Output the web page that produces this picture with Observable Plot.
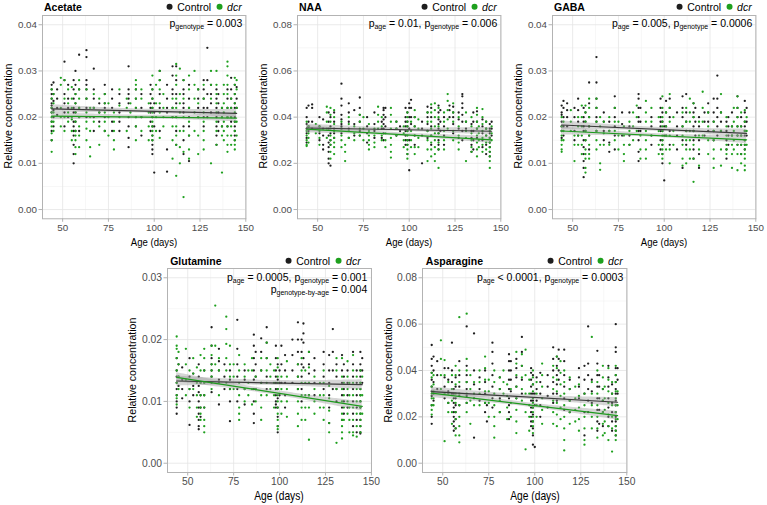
<!DOCTYPE html>
<html><head><meta charset="utf-8">
<script src="https://cdn.jsdelivr.net/npm/d3@7"></script>
<script src="https://cdn.jsdelivr.net/npm/@observablehq/plot@0.6"></script>
<style>
body{margin:0;background:#fff;font-family:"Liberation Sans",Arial,sans-serif;}
#fig{position:relative;width:767px;height:505px;overflow:hidden;background:#fff;}
#fig svg{position:absolute;}
.t{position:absolute;white-space:nowrap;line-height:1;color:#000;}
.t sub{font-size:7px;vertical-align:-2.5px;line-height:0;}
.leg{display:flex;align-items:center;}
.dot{display:inline-block;width:6px;height:6px;border-radius:50%;margin-right:5px;}
</style></head><body><div id="fig"></div>
<script>
// ---- data (concentrations in thousandths: 21 = 0.021) ----
const panelNames = ["Acetate", "NAA", "GABA", "Glutamine", "Asparagine"];
const groupNames = ["Control", "dcr"];
const xTicks = [50, 75, 100, 125, 150];
const yTicksSmall = [0, 0.01, 0.02, 0.03, 0.04];
const yTicksLarge = [0, 0.02, 0.04, 0.06, 0.08];
const yTicksGln = [0, 0.01, 0.02, 0.03];
const pLabels = [
  ["p<sub>genotype</sub> = 0.003"],
  ["p<sub>age</sub> = 0.01, p<sub>genotype</sub> = 0.006"],
  ["p<sub>age</sub> = 0.005, p<sub>genotype</sub> = 0.0006"],
  ["p<sub>age</sub> = 0.0005, p<sub>genotype</sub> = 0.001", "p<sub>genotype-by-age</sub> = 0.004"],
  ["p<sub>age</sub> &lt; 0.0001, p<sub>genotype</sub> = 0.0003"]
];

const acetateControl = [
 [44,[27,26,25,24,23,22.5,22,21,19,17,15]],[45,[27.5,25,23.5,21.5,20,18]],[47,[26,24,22,20.5]],
 [51,[32,28,25,23,21,18]],[53,[27,24,22,20]],[56,[28,26,24,22,21,19,18,17,16,14,12,10]],
 [57,[30,27,25,23,21,19,17]],[59,[33.5,26,22,20,17]],[63,[34.5,33,28,27,26,24,22,20]],
 [67,[30.5,26,24,22,20,17]],[70,[23,21,19]],[73,[27,25,23,22,20,17]],[77,[26,24,22,19,17]],
 [81,[25,23,21,19,17]],[86,[31,26,25,24,23,20,18,15.5,13.5]],[90,[26,24,22,20,18]],[93,[25,22,20,16]],
 [98,[27,25,23,22,21,19,17]],[99,[26,24,22,20,18,16,15,14,13,12]],[100,[8,23,21,18]],
 [103,[30,28,25,22,17]],[107,[27,24,22,21,13,8.2]],[110,[31,29,26,25,22,20]],
 [112,[31,28,25,23,20,17,14]],[116,[28,26,25,23,22,21,18,15,12]],[119,[27,24,22,20,18,16,10.5]],
 [124,[26,24,22,20]],[127,[28,26,24,22,20,18]],[129,[35,28,25,22,20]],[131,[27,25,23,21]],
 [134,[26,24,22,20,18,16,14]],[135,[25,23,21,19,17]],[137,[22,20,18]],[140,[26,24,22,20,18]],
 [142,[28.5,26,24,22,20,19]],[144,[27,25,23,22,20,19,18,17,16,15]],[145,[26.5,24,22]]
];
const acetateDcr = [
 [44,[26,24,22,21,20,19,18,16.5,15,12.5]],[45,[25,23,21,19,17]],[49,[28.5,27,22,20,18]],
 [51,[28,24,20,17]],[53,[26,23,21,19]],[55,[26.5,24,22,20,19.5,17,15]],
 [57,[25,23,21,19,17,16,15,13.5,12]],[59,[28,26,24,22,20,18,16,13.5]],[63,[26,24,21,19,17.5,15]],
 [65,[22,20,17,13.5,11.5]],[67,[25,22,19]],[70,[24,21,18,14]],[73,[25,23,21,19,17]],[75,[23,20,16]],
 [78,[21,19,17,15,13]],[81,[26,22.5,20]],[85,[24,22,17]],[87,[23,21]],[90,[28,27,26,24,22,20,18,15]],
 [93,[26,24,20,17]],[97,[23,21,18,15]],[99,[29,26,24,22,21,20,19,18,17,16,15]],[101,[27,23,20,17]],
 [103,[30,28,26,23,21,15.5]],[105,[25,22,20,18]],[110,[24,22,20,18,15,11]],
 [112,[31.5,29,27,24,22,20,18,16,14,7.3]],[114,[30.5,25,23,21,17,13.5,10]],[116,[28,24,20,17,12.5,2.7]],
 [119,[29,26,22,19,16,13,11]],[122,[30,27,24,21,17]],[124,[26,23,20,16,12]],[127,[27,24,21,19,17,15,13]],
 [131,[30,27,24,10]],[134,[30,27,25,23,21,19,17,14]],[137,[22,20,18,16,8]],[138,[27,25,23,21,19,17,15]],
 [140,[32,31,29,27,25,22,20,18,16,14,12.5]],[142,[24,22,20,18,16,14]],
 [144,[28.5,27,25,23,21,19,17,15,14,13]],[145,[28,26,22,19,16]]
];
const naaControl = [
 [44,[44,40,37,35,33,31,29]],[45,[45,38,36,34]],[47,[45.5,44,38,35]],[51,[40,36,33,30]],
 [53,[39,35,32,28,26]],[56,[42,38,35,32,29,27,25,22,20]],[57,[40,36,33,30,28,19]],[59,[42,38,35,33,31]],
 [63,[54.5,48,45,41,39,37,36,35,33]],[67,[46,42,38,35,31]],[70,[43,37,32]],[73,[48.5,44,41,38,34,32]],
 [77,[40,36,33,29]],[81,[42,37,34,31]],[85,[38,35,31]],[86,[44,43,41,39,37,35,33,30]],[87,[44,40,36]],
 [93,[38,35,32]],[95,[34,36]],[98,[44,40,38,36,34,32,30,28]],[99,[42,38,36,34,30,28,24]],
 [100,[46,44,40,35,30,17]],[101,[47.5,44,40,37]],[103,[40,36,32,28]],[107,[38,35,32,20]],
 [110,[44.5,42,40,37,34,31]],[112,[44,40,36,32,28]],[116,[45,42,39,37,35,33,30,28,26]],[117,[43,38,34]],
 [119,[40,36,32,28]],[122,[45,43,40]],[124,[44.5,42,40,37,33]],[127,[42,39,35,31]],
 [129,[50,49,46,44,41,38,34,30]],[131,[38,35]],[134,[37,34,31,28,25]],[135,[42,38,34,30,26]],
 [137,[42.5,38,35,31]],[140,[39,36,33,30,27]],[142,[38,35,32,28,24]],[144,[37,35,33,31,29,27,25,23]],
 [145,[38,35,32]]
];
const naaDcr = [
 [44,[38,34,32,30,28,27.5]],[45,[36,33,31,29]],[49,[37,33]],[51,[36,34,31,28]],[55,[44.5,42,38,35,31]],
 [57,[44,41,38,35,32,30,28,25,22]],[59,[43,40,37,34,31,29,27,24]],[63,[38,35,32,30,27]],[65,[28,25,21]],
 [67,[40,37,34,31]],[70,[36,33,30]],[73,[41,38,35,32]],[75,[40,35,30]],[78,[37,34,32,30,28,26]],
 [81,[35,32,29,27]],[83,[44.5,41,38,35]],[85,[40,36,32,30]],[87,[33,30,27]],[90,[44,41,38,35,31,28,25,22.5]],
 [93,[38,35,32]],[97,[36,33,30,27]],[99,[42,40,38,36,34,32,30,28,26,24,22]],[101,[38,34,30,27]],
 [103,[43,40,36,32,27,24]],[105,[39,35,31,27]],[110,[42,38,34,30,26,21]],[112,[45.5,42,38,35,32,29,26,23]],
 [114,[46,43,40,36,33,30,27,24,21]],[116,[44,40,36,33,29,26,18]],[119,[42,38,34,30,26]],
 [121,[50,47,43,39,35]],[124,[46,42,38,34,30]],[127,[40,36,32,29,26]],[131,[42,38,34,31,21]],
 [134,[40,36,33,30,27,25]],[137,[44,41,38,35,32,29,26,23]],[138,[36,33,30,27]],
 [140,[43.5,40,37,34,31,28,25]],[142,[38,35,32,29,26]],[144,[34,31,29,27,25,23,21,18]],[145,[36,33,30]]
];
const gabaControl = [
 [44,[22.5,21,20.5,19,18,17,15.5]],[45,[23.5,22,20,18,16]],[47,[23,21.5,20,18]],[51,[22,20,17,15]],
 [53,[24,21.5,19,16]],[56,[22,20,19,18,17,15,13.5,12,10.5,9,7]],[57,[21,19,17,15]],[59,[27.5,23,20,18,16,13]],
 [63,[33,27.5,24,22,20,19,17]],[67,[21,19,17,15]],[70,[19,17,14.5,12.5]],[73,[24.5,22,20,18,16,13]],
 [77,[21,18.5,16]],[81,[21,18,16,14]],[86,[25,24,22,20,19,17,15,12.5,10.5]],[87,[22,19,17]],
 [93,[20,18,16,14]],[98,[24,22,20,19,18,17,15,13]],[99,[21,19,17,15,14,12,10]],[100,[6.3,18,16]],
 [101,[23.5,21,18,16]],[103,[24,22,20,17,14]],[107,[21,18,16,13]],[110,[24.5,22,20,18,15,9]],
 [112,[25,21,19,17,14]],[116,[23,21,20,18,17,15,13,11]],[117,[22,19,16]],[119,[20,18,15,12,9]],
 [122,[21,19,16]],[124,[23,21,19,17]],[127,[24,21,19,17,15]],[129,[29,24,22,20,18,16]],[131,[21,19,17]],
 [134,[19,17,15,13,11]],[135,[20,18,16,14]],[137,[21,18,16]],[140,[24.5,22,20,18,16,14]],
 [142,[20,18,16,14,12]],[144,[23.5,21,19,18,17,16,15,14,13]],[145,[22,19,16]]
];
const gabaDcr = [
 [44,[20,18,17,16,15,14,13,12.5]],[45,[19,17,15]],[49,[21.5,19,17]],[51,[16,14,10.5]],[53,[20,18,16,14]],
 [55,[22.5,20,18,16,14,12]],[57,[22.5,21,19,17,15,13,12,11,9,8]],[59,[24,22,20,18,16,14,12,11]],
 [63,[24,22,19,17,15,13]],[65,[20,18,14,10,8.6]],[67,[19,16.5,14]],[70,[20,17,14]],[73,[22,19,17,15]],
 [75,[19,16,13]],[78,[18,16,14,12,10.5]],[81,[19,17,14]],[83,[21,18,15]],[85,[22.5,20,17]],[87,[16,13,11]],
 [90,[23.5,21,19,17,15,13,11]],[93,[22,19,16]],[97,[20,17,14,12]],
 [99,[24.5,22,20,19,18,17,16,15,14,13,12,11]],[101,[21,18,16,13]],[103,[25,22,19,16,13,10]],
 [105,[20,17,14]],[110,[21,18,16,14,11,9.5]],[112,[22,19,17,15,13,10]],[114,[24,21,19,17,15,13,11]],
 [116,[23,20,17,14,11,6]],[119,[19,16,13,9.5]],[121,[25.5,22,19,16]],[124,[21,18,15,12]],
 [127,[19,17,15,13,11,9]],[131,[25,21,17,13,9.5]],[134,[20,18,16,14,13,12]],[137,[18,16,14,12,9]],
 [138,[22,19,17,15,13]],[140,[24.5,22,20,18,16,14,12,8.5]],[142,[21,18,16,14,12,10]],
 [144,[21.5,19,17,15,14,13,12,11,9.5,8.5]],[145,[20,17,14]]
];
const glutamineControl = [
 [44,[17,15,14,13,12,11,10,9,8]],[45,[16,14,12.5]],[47,[15.5,13.5,12,10.5]],[51,[17,14,12,10,6.2]],
 [53,[14.5,12.5,11]],[56,[16,14,12.5,11.5,10,9,8,7,6,5.5]],[57,[13,11,9,7.5]],[59,[15,13,11,9]],
 [63,[22,19,17,16,15,14,13,11.5]],[67,[18.5,16.5,15,13.5,9.5]],[70,[16,14,12]],[73,[15,13.5,12,10,6.8]],
 [77,[23.2,18.5,16,14,12,10]],[81,[15,13.5,12,9.5]],[86,[20.8,19,17,15,13.5,12,10,8,6.5]],[87,[18,16,14,12]],
 [90,[20.2,18,15,13]],[93,[22,19.5,17,14,12]],[98,[19,17,15,14,13,12,11,10,9.5,9]],
 [99,[16,13.5,12,10.5,9,7.5,6,5]],[100,[15,13,11]],[101,[19,16,13]],[103,[17.5,15,13,11,9]],
 [107,[20,17.5,15,13]],[110,[22.8,20,18,16,14,12]],[112,[20,18,16,14,12,10]],[113,[22.6,21,19.5,17,15.5]],
 [116,[18,16,14.5,13,11]],[119,[17,15,13,11]],[124,[18,16,14,12]],[127,[17.5,15,13,11,9,6.5]],
 [129,[21.7,18,15,12]],[131,[16,14,12,10]],[134,[17.5,15,13,11,9,7]],[135,[16,14,12,10,8]],
 [137,[15,13,11,9]],[140,[18,16,14,12,10,8,6]],[142,[15,13,11,9,7,5]],
 [144,[18,16,15,14,13,12,11,10,9,8,7,6,5,4.8]],[145,[17,15,13]]
];
const glutamineDcr = [
 [44,[20.5,19,18.5,17,15,13,11,10.5,9.5]],[45,[18,16,14,12]],[49,[18.5,16,13.5,11]],[51,[15,12,9]],
 [53,[17,14.5,12]],[55,[15.5,13,11,9,7.5]],[57,[17.5,15,13,11,9,8,7]],[59,[18.5,17,15,13,11,9,7,6,5]],
 [63,[19,17.5,16,15,14,12]],[65,[25.5,19,16]],[67,[17,15,13,11]],[71,[23.7,21.7,19.3,17,15,13]],
 [73,[19,16,14,12]],[75,[16,14,12]],[78,[17.5,15,13,11,9,8,7]],[81,[16,14,12,10]],[83,[15,13,11]],
 [85,[17,15,12,9.5]],[87,[14,12,10]],[90,[17,15,13,11,9,7]],[93,[19.5,17,15,13,11]],[95,[16,14,12]],
 [97,[15,13,11,9]],[99,[17,15.5,14,13,12,11,10,9,8,7,6,5.5]],[101,[14,12,10,8]],[104,[16.5,14,12,10,7.5]],
 [110,[16,14,12,10,8,6]],[112,[17,15,13,11,9,7]],[114,[15,13,11,9,7]],[116,[18,15.5,13,11,9,3.8]],
 [119,[14,12,10,8]],[122,[13,11,9]],[124,[15,13,11,9,7]],[127,[12.5,10.5,8.5,6.5,5]],[131,[17,15,12,3.3]],
 [134,[17,14,12,10,8,7,6,5,4]],[135,[13,11,9,7]],[137,[16.5,14,12,10,8]],[138,[13,11,9,7,5]],
 [140,[17.5,15,13,11,9,7,5,4.5]],[142,[14,12,10,8,6,4.3]],[144,[15,13,12,11,10,9,8,7,6,5]],[145,[14,11,8]]
];
const asparagineControl = [
 [44,[51,45,42,39,36,33,31,29,25,20,17]],[45,[46,40,35,30,27]],[47,[44,38,32]],[51,[41,37,33,28]],
 [53,[41,36,31,26]],[55,[52,40,35,30]],[56,[32,30,28,26,24,22,20,18,16,14]],[57,[37,33,28,25,22,19,15]],
 [59,[44,38,33,29,25]],[63,[59,42,38,35,32,29,26]],[67,[56,40,34,28,11]],[70,[37,32,27]],
 [73,[40,35,30,26,22]],[74,[25,18]],[77,[52,48,43,38,33,28,24]],[81,[37,32,28,22]],
 [86,[47,44,40,36,32,28,25,22,19]],[87,[44,40,36,31]],[90,[45,41,37,33,28]],[93,[54.5,48,42,36,30]],
 [98,[41,39,36,33,30,27,24,22,20,18,16]],[99,[38,34,30,27,24,21,18,15,12,8]],[100,[7,30,25]],
 [101,[37,32,27]],[103,[39,35,30,25,20]],[107,[38,33,29,24]],[110,[50,45,40,35,30,26]],
 [112,[46,42,38,34,30,27]],[113,[49,45,40,36]],[116,[49,44,38,33,28,23]],[119,[36,32,27,22]],
 [124,[41,37,33,28]],[127,[42,36,30,22,12]],[129,[59,43,38,32,27,22]],[131,[36,31,26]],
 [134,[48.5,43,38,33,28,23,18,14]],[135,[38,33,28,23,17]],[137,[32,27,22,16]],[140,[42,37,33,28,24,20,16]],
 [142,[34,30,26,22,18,14]],[144,[60,50,48,41,38,35,32,30,27,25,22,20,18,16,14,12]],[145,[41,36,30]]
];
const asparagineDcr = [
 [44,[39,37,33,30,28,25,23,21]],[45,[38,34,31,28,25]],[49,[53,45,38,32]],[51,[44.5,38,30,9.5]],
 [53,[35,30,26,22]],[55,[38,32,27,22,17]],[57,[42,38,34,30,26,22,19,15,12]],[59,[63,40,35,30,25,20,16,12,9]],
 [63,[64.5,45,40,35,30,26,22]],[65,[38,32,27,17]],[67,[35,30,25]],[70,[40,35,30,25]],[73,[46,41,36,31,26]],
 [75,[36,31,26,20]],[78,[40,35,30,25,20,16,11]],[81,[37,32,27,22]],[83,[40,35,30]],[85,[34,29,24,19]],
 [87,[32,26,20]],[90,[48,43,38,33,28,23,18,13]],[93,[47,42,37,32,27]],[95,[49,38,30,22,6]],
 [97,[36,30,25,20,14]],[99,[40,37,34,31,28,26,24,22,20,18,16,13]],[101,[35,30,25,20]],
 [104,[43,38,33,28,23,17]],[110,[42,37,32,27,22,17]],[112,[46,41,36,31,26,21,16]],[114,[44,39,34,29,24,19]],
 [116,[40,35,30,25,20,15,10,5.5]],[119,[37,32,27,22,17]],[122,[33,28,23,18]],[124,[34,29,24,19,14]],
 [127,[30,25,20,15,10,8]],[131,[54.5,35,30,25,20,15]],[134,[40,35,30,25,20,15,11]],
 [137,[42,37,32,27,22,17,12]],[138,[33,28,23,18,13]],[140,[41,36,31,26,21,16,10]],[142,[35,30,25,20,15,5]],
 [144,[42,38,35,31,28,25,22,19,16,14,12,10]],[145,[31,25,19]]
];
// fitted lines: [value at age 44, value at age 145, CI half-width at ends, CI half-width at centre] (thousandths)
const acetateFits = [[21.8, 20.8, 0.9, 0.42], [20.2, 19.8, 0.8, 0.4]];
const naaFits = [[35.3, 33.9, 1.7, 0.8], [34.8, 30.2, 1.6, 0.75]];
const gabaFits = [[18.3, 16.5, 0.9, 0.42], [17.0, 15.1, 0.85, 0.4]];
const glutamineFits = [[13.3, 12.7, 0.8, 0.4], [13.9, 9.2, 0.75, 0.38]];
const asparagineFits = [[30.9, 26.3, 2.0, 0.95], [30.2, 20.5, 1.9, 0.9]];
const fitRange = [44, 145];

// ---- rendering ----
const COLORS = ["#1e1e1e", "#1ea01e"];
const LINECOLORS = ["#3a3a3a", "#1e9a1e"];
const fig = document.getElementById("fig");
const FONT = '"Liberation Sans", Arial, sans-serif';

const panels = [
  {ctrl: acetateControl, dcr: acetateDcr, fits: acetateFits, ticks: yTicksSmall, minor: [0.005,0.015,0.025,0.035], L: 42.3, R: 245.7, T: 14.5, B: 217.8, row: 0},
  {ctrl: naaControl, dcr: naaDcr, fits: naaFits, ticks: yTicksLarge, minor: [0.01,0.03,0.05,0.07], L: 297.3, R: 500.7, T: 14.5, B: 217.8, row: 0},
  {ctrl: gabaControl, dcr: gabaDcr, fits: gabaFits, ticks: yTicksSmall, minor: [0.005,0.015,0.025,0.035], L: 552.3, R: 755.7, T: 14.5, B: 217.8, row: 0},
  {ctrl: glutamineControl, dcr: glutamineDcr, fits: glutamineFits, ticks: yTicksGln, minor: [0.005,0.015,0.025], L: 166.7, R: 370.7, T: 268, B: 472, row: 1},
  {ctrl: asparagineControl, dcr: asparagineDcr, fits: asparagineFits, ticks: yTicksLarge, minor: [0.01,0.03,0.05,0.07], L: 422.3, R: 626.7, T: 268, B: 472, row: 1}
];

const toRows = cols => cols.flatMap(([age, vals]) => vals.map(v => ({age, value: v / 1000})));

function bandRows(f) {
  const [a, b, hwEnd, hwMid] = f;
  const [x0, x1] = fitRange, xc = (x0 + x1) / 2, h = (x1 - x0) / 2;
  const rows = [];
  for (let x = x0; x <= x1; x += 1) {
    const y = a + (b - a) * (x - x0) / (x1 - x0);
    const t = (x - xc) / h;
    const hw = Math.sqrt(hwMid * hwMid + (hwEnd * hwEnd - hwMid * hwMid) * t * t);
    rows.push({x, y1: (y - hw) / 1000, y2: (y + hw) / 1000});
  }
  return rows;
}
const lineRows = f => [{x: fitRange[0], y: f[0] / 1000}, {x: fitRange[1], y: f[1] / 1000}];

function txt(html, x, y, o = {}) {
  const d = document.createElement("div");
  d.className = "t" + (o.cls ? " " + o.cls : "");
  d.innerHTML = html;
  d.style.left = x + "px";
  d.style.top = y + "px";
  d.style.fontSize = (o.size || 10.5) + "px";
  if (o.bold) d.style.fontWeight = "bold";
  if (o.color) d.style.color = o.color;
  const ax = o.anchor === "end" ? "-100%" : o.anchor === "middle" ? "-50%" : "0";
  d.style.transform = `translate(${ax}, -50%)` + (o.rotate ? ` rotate(${o.rotate}deg)` : "") + (o.sx ? ` scaleX(${o.sx})` : "");
  fig.appendChild(d);
  return d;
}

const ML = 40, MR = 6, MT = 4, MB = 30;
panels.forEach((p, i) => {
  const ymax = p.ticks[p.ticks.length - 1];
  const tickFs = p.row === 0 ? 9.8 : 10.3;
  const svg = Plot.plot({
    width: p.R - p.L + ML + MR,
    height: p.B - p.T + MT + MB,
    marginLeft: ML, marginRight: MR, marginTop: MT, marginBottom: MB,
    x: {domain: [39, 150.05]},
    y: {domain: [-0.05 * ymax, 1.05 * ymax]},
    style: {fontFamily: FONT, background: "transparent", overflow: "visible"},
    marks: [
      Plot.gridX([62.5, 87.5, 112.5, 137.5], {stroke: "#f1f1f1", strokeOpacity: 1, strokeWidth: 0.6}),
      Plot.gridY(p.minor, {stroke: "#f1f1f1", strokeOpacity: 1, strokeWidth: 0.6}),
      Plot.gridX(xTicks, {stroke: "#e4e4e4", strokeOpacity: 1, strokeWidth: 0.8}),
      Plot.gridY(p.ticks, {stroke: "#e4e4e4", strokeOpacity: 1, strokeWidth: 0.8}),
      Plot.dot(toRows(p.ctrl), {x: "age", y: "value", r: 1.15, fill: COLORS[0], stroke: null}),
      Plot.dot(toRows(p.dcr), {x: "age", y: "value", r: 1.15, fill: COLORS[1], stroke: null}),
      ...p.fits.map(f => Plot.areaY(bandRows(f), {x: "x", y1: "y1", y2: "y2", fill: "#999999", fillOpacity: 0.4})),
      ...p.fits.map((f, g) => Plot.line(lineRows(f), {x: "x", y: "y", stroke: LINECOLORS[g], strokeWidth: 1.2})),
      Plot.frame({stroke: "#b3b3b3", strokeWidth: 1}),
      Plot.axisX(xTicks, {tickSize: 3.5, tickPadding: 2, fontSize: tickFs, fill: "#4d4d4d", stroke: "#b3b3b3", label: null}),
      Plot.axisY(p.ticks, {tickSize: 3.5, tickPadding: 2, fontSize: tickFs, fill: "#4d4d4d", stroke: "#b3b3b3", tickFormat: d3.format(".2f"), label: null})
    ]
  });
  svg.style.left = (p.L - ML) + "px";
  svg.style.top = (p.T - MT) + "px";
  fig.appendChild(svg);

  // title
  txt(panelNames[i], p.L + (p.row === 0 ? 1.7 : 3.5), p.T - 7.3, {bold: true, size: 10.5});
  // legend
  txt(`<span class="dot" style="background:${COLORS[0]}"></span><span>${groupNames[0]}</span>` +
    `<span class="dot" style="background:${COLORS[1]};margin-left:5px"></span><span style="font-style:italic">${groupNames[1]}</span>`,
    p.R - (i === 3 ? 10 : 4), p.T - 7.3, {anchor: "end", size: 10.5, cls: "leg"});
  // p-values
  pLabels[i].forEach((s, k) => txt(s, p.R - 3.4, p.T + 8.5 + k * 12.6, {anchor: "end", size: 10.5}));
  // axis titles
  const xs = d3.scaleLinear([39, 150.05], [p.L, p.R]);
  txt("Age (days)", xs(100), p.B + (p.row === 0 ? 24.9 : 24), {anchor: "middle", size: p.row === 0 ? 11.4 : 12.2, sx: 0.84});
  txt("Relative concentration", p.L - 34.3, (p.T + p.B) / 2, {anchor: "middle", size: 10.6, rotate: -90});
});
</script></body></html>
